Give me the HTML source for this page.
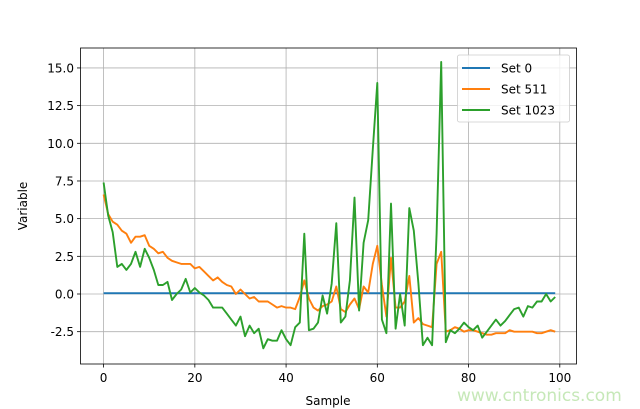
<!DOCTYPE html>
<html><head><style>
body{margin:0;background:#fff;}
svg{display:block;font-family:"DejaVu Sans","Liberation Sans",sans-serif;}
</style></head><body>
<svg id="s" width="640" height="409" viewBox="0 0 640 409">
<rect width="640" height="409" fill="#fff"/>
<g id="grid" stroke="#b0b0b0" stroke-width="0.8"></g>
<g id="lines" fill="none" stroke-width="1.9" stroke-linejoin="round"></g>
<rect x="80.5" y="48" width="496" height="316" fill="none" stroke="#000" stroke-width="0.8"/>
<g id="ticks" font-size="12" fill="#000"></g>
<text x="328" y="405" font-size="12" text-anchor="middle">Sample</text>
<text transform="translate(27,206) rotate(-90)" font-size="12" text-anchor="middle">Variable</text>
<g>
<rect x="457.5" y="55" width="112" height="67" rx="2" fill="#fff" fill-opacity="0.8" stroke="#ccc" stroke-width="0.8"/>
<line x1="462" y1="68" x2="490" y2="68" stroke="#1f77b4" stroke-width="1.9"/>
<line x1="462" y1="89" x2="490" y2="89" stroke="#ff7f0e" stroke-width="1.9"/>
<line x1="462" y1="110" x2="490" y2="110" stroke="#2ca02c" stroke-width="1.9"/>
<text x="501" y="72.5" font-size="12">Set 0</text>
<text x="501" y="93.5" font-size="12">Set 511</text>
<text x="501" y="114.5" font-size="12">Set 1023</text>
</g>
<text x="457" y="401" font-size="17" fill="#c6e8b8">www.cntronics.com</text>
</svg>
<script>
var NS="http://www.w3.org/2000/svg";
function X(i){return 103.6+4.562*i;}
function Y(v){return 294-15.07*v;}
var g=document.getElementById('grid'),t=document.getElementById('ticks'),L=document.getElementById('lines');
function el(p,n,a){var e=document.createElementNS(NS,n);for(var k in a)e.setAttribute(k,a[k]);p.appendChild(e);return e;}
[0,20,40,60,80,100].forEach(function(v){var x=X(v);el(g,'line',{x1:x,x2:x,y1:48,y2:364});
el(t,'line',{x1:x,x2:x,y1:364,y2:367.5,stroke:'#000','stroke-width':0.8});
var e=el(t,'text',{x:x,y:382,'text-anchor':'middle'});e.textContent=v;});
[-2.5,0,2.5,5,7.5,10,12.5,15].forEach(function(v){var y=Y(v);el(g,'line',{x1:80.5,x2:576.5,y1:y,y2:y});
el(t,'line',{x1:77,x2:80.5,y1:y,y2:y,stroke:'#000','stroke-width':0.8});
var e=el(t,'text',{x:74,y:y+4.5,'text-anchor':'end'});e.textContent=v.toFixed(1);});
var gr=[7.4,5.2,4.1,1.8,2.0,1.6,2.0,2.8,1.8,3.0,2.4,1.6,0.6,0.6,0.8,-0.4,0,0.3,1.0,0.1,0.4,0.1,-0.1,-0.4,-0.9,-0.9,-0.9,-1.3,-1.7,-2.1,-1.5,-2.8,-2.1,-2.6,-2.3,-3.6,-3.0,-3.1,-3.1,-2.4,-3.0,-3.4,-2.2,-1.9,4.0,-2.4,-2.3,-1.9,-0.1,-1.3,0.7,4.7,-1.9,-1.5,0.9,6.4,-1.1,3.4,4.9,9.6,14.0,-1.7,-2.6,6.0,-2.3,0,-2.1,5.7,4.2,0.7,-3.4,-2.9,-3.4,4.0,15.4,-3.2,-2.4,-2.6,-2.3,-1.9,-2.2,-2.4,-2.1,-2.9,-2.5,-2.1,-1.7,-2.1,-1.8,-1.4,-1.0,-0.9,-1.5,-0.8,-0.9,-0.5,-0.5,0,-0.5,-0.2];
var or=[6.6,5.3,4.8,4.6,4.2,4.0,3.4,3.8,3.8,3.9,3.2,3.0,2.7,2.8,2.4,2.2,2.1,2.0,2.0,2.0,1.7,1.8,1.5,1.2,0.9,1.1,0.8,0.6,0.5,0.0,0.3,0.0,-0.3,-0.2,-0.5,-0.5,-0.5,-0.7,-0.9,-0.8,-0.9,-0.9,-1.0,-0.2,0.9,-0.3,-0.9,-1.1,-0.8,-0.7,-0.5,0.5,-1.0,-1.2,-0.7,-0.3,-1.0,0.5,0.1,2.0,3.2,0.6,-1.5,2.4,-0.9,-0.9,-0.5,1.2,-1.9,-1.6,-2.0,-2.1,-2.2,2.0,2.8,-2.5,-2.4,-2.2,-2.3,-2.5,-2.4,-2.4,-2.5,-2.6,-2.7,-2.7,-2.6,-2.6,-2.6,-2.4,-2.5,-2.5,-2.5,-2.5,-2.5,-2.6,-2.6,-2.5,-2.4,-2.5];
var bl=[];for(var i=0;i<100;i++)bl.push(0.05);
function pl(d,c){el(L,'polyline',{stroke:c,points:d.map(function(v,i){return X(i).toFixed(1)+','+Y(v).toFixed(1);}).join(' ')});}
pl(bl,'#1f77b4');pl(or,'#ff7f0e');pl(gr,'#2ca02c');
</script>
</body></html>
